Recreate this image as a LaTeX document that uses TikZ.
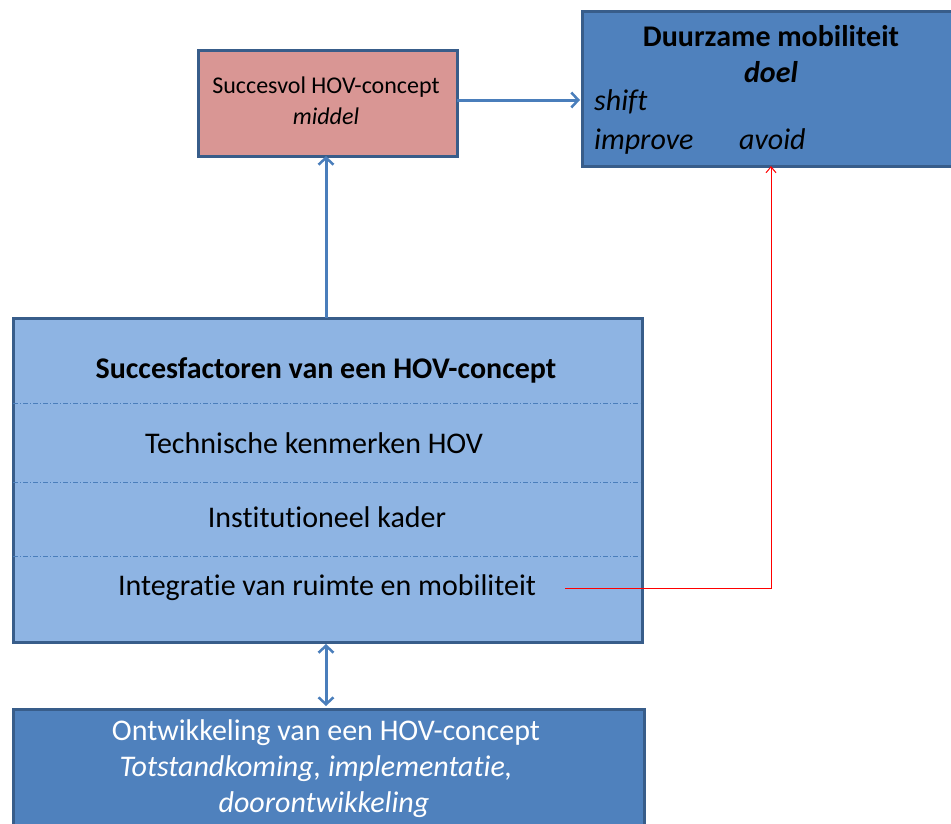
\documentclass[tikz,border=0pt]{standalone}
\usepackage{fontspec}
\setmainfont{Carlito}[Ligatures={NoCommon}]
\usetikzlibrary{arrows.meta}
\definecolor{darkfill}{HTML}{4F81BD}
\definecolor{lightfill}{HTML}{8EB4E3}
\definecolor{redfill}{HTML}{D99694}
\definecolor{boxborder}{HTML}{385D8A}
\definecolor{arrowblue}{HTML}{4A7EBB}
\tikzset{
  boxshape/.style={draw=boxborder, line width=2.5pt, inner sep=0pt},
  bluearrow/.style={draw=arrowblue, line width=3pt, -{Straight Barb[length=7pt,width=15pt,line width=2.5pt]}},
  bluedouble/.style={draw=arrowblue, line width=3pt, {Straight Barb[length=7pt,width=15pt,line width=2.5pt]}-{Straight Barb[length=7pt,width=15pt,line width=2.5pt]}},
  redarrow/.style={draw=red, line width=1pt, -{Straight Barb[length=6pt,width=10pt,line width=1pt]}},
  sep/.style={draw=arrowblue, line width=0.8pt, dash pattern=on 5pt off 2pt on 1pt off 2pt},
  txt/.style={inner sep=0pt, font=\fontsize{30}{34}\selectfont}
}
\begin{document}
\begin{tikzpicture}[x=1pt,y=-1pt]
\useasboundingbox (0,0) rectangle (951,823);
\begin{scope}
\clip (0,0) rectangle (951,823);
% boxes
\node[boxshape, fill=redfill, minimum width=259pt, minimum height=106pt, anchor=north west] (red) at (197,49) {};
\node[boxshape, fill=darkfill, minimum width=380pt, minimum height=155pt, anchor=north west] (goal) at (581,10) {};
\node[boxshape, fill=lightfill, minimum width=629pt, minimum height=324pt, anchor=north west] (big) at (12,317) {};
\node[boxshape, fill=darkfill, minimum width=631pt, minimum height=130pt, anchor=north west] (dev) at (12,708) {};
% separators
\coordinate (s1l) at (13,403); \coordinate (s1r) at (640,403);
\coordinate (s2l) at (13,482); \coordinate (s2r) at (640,482);
\coordinate (s3l) at (13,556); \coordinate (s3r) at (640,556);
\draw[sep] (s1l) -- (s1r);
\draw[sep] (s2l) -- (s2r);
\draw[sep] (s3l) -- (s3r);
% texts
\node[txt, font=\fontsize{24}{28}\selectfont] (redt1) at (326,87) {Succesvol HOV-concept};
\node[txt, font=\fontsize{24}{28}\selectfont\itshape] (redt2) at (326,116) {middel};
\node[txt, font=\fontsize{30}{34}\selectfont\bfseries] (goalt1) at (771,36) {Duurzame mobiliteit};
\node[txt, font=\fontsize{30}{34}\selectfont\bfseries\itshape] (goalt2) at (771,72) {doel};
\node[txt, font=\fontsize{30}{34}\selectfont\itshape, anchor=base west] (shift) at (594,110) {shift};
\node[txt, font=\fontsize{30}{34}\selectfont\itshape, anchor=base west] (improve) at (594,149) {improve};
\node[txt, font=\fontsize{30}{34}\selectfont\itshape, anchor=base west] (avoid) at (739,149) {avoid};
\node[txt, font=\fontsize{30}{34}\selectfont\bfseries] (bigt1) at (326,370) {Succesfactoren van een HOV-concept};
\node[txt] (bigt2) at (314,443) {Technische kenmerken HOV};
\node[txt] (bigt3) at (327,517) {Institutioneel kader};
\node[txt] (bigt4) at (327,588) {Integratie van ruimte en mobiliteit};
\node[txt, text=white] (devt1) at (326,733) {Ontwikkeling van een HOV-concept};
\node[txt, text=white, font=\fontsize{30}{34}\selectfont\itshape] (devt2) at (316,769) {Totstandkoming, implementatie,};
\node[txt, text=white, font=\fontsize{30}{34}\selectfont\itshape] (devt3) at (324,805) {doorontwikkeling};
% connectors
\coordinate (bigtop) at (326,318);
\coordinate (redbot) at (326,156);
\draw[bluearrow] (bigtop) -- (redbot);
\coordinate (redright) at (457,100);
\coordinate (goalleft) at (580,100);
\draw[bluearrow] (redright) -- (goalleft);
\coordinate (bigbot) at (326,644);
\coordinate (devtop) at (326,706);
\draw[bluedouble] (bigbot) -- (devtop);
\coordinate (rstart) at (565,588);
\coordinate (rgoal) at (771,166);
\draw[redarrow] (rstart) -| (rgoal);
\end{scope}
\end{tikzpicture}
\end{document}
